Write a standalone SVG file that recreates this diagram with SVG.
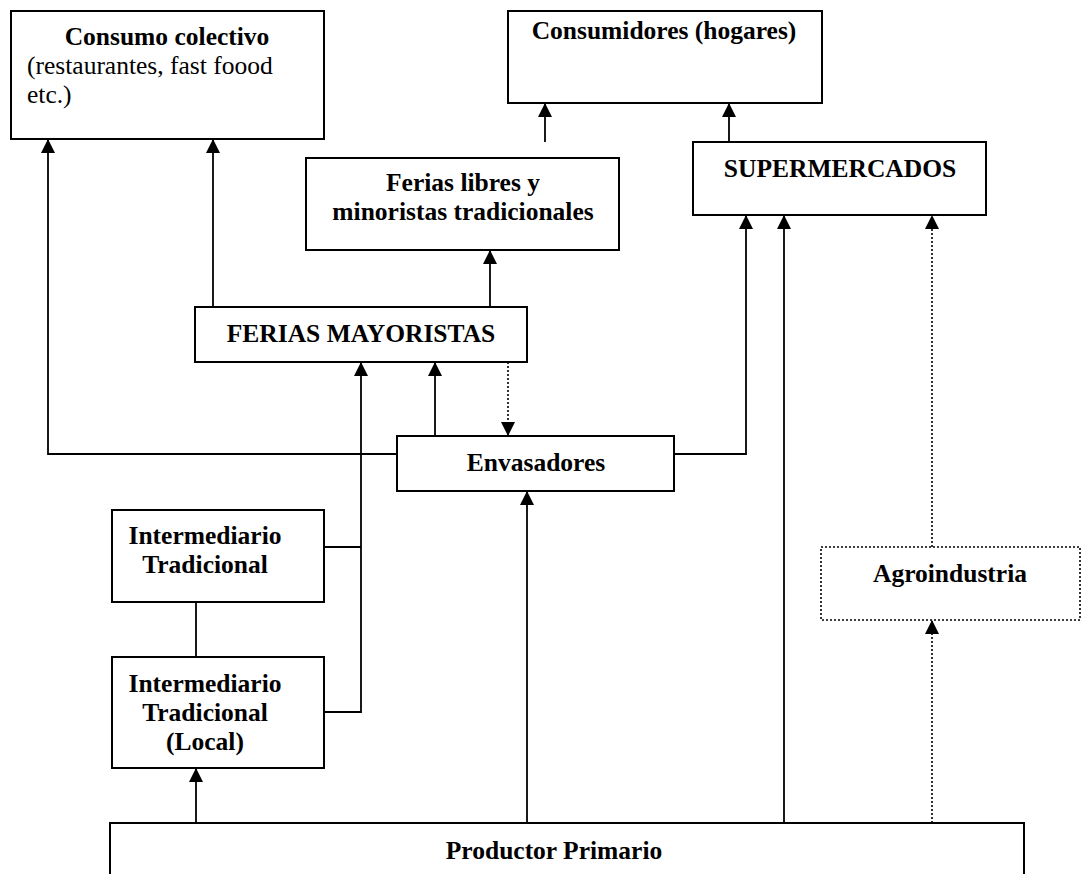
<svg xmlns="http://www.w3.org/2000/svg" width="1084" height="874" viewBox="0 0 1084 874">
  <style>
    .box { fill: #ffffff; stroke: #000000; stroke-width: 2; }
    .dotbox { fill: #ffffff; stroke: #000000; stroke-width: 1.6; stroke-dasharray: 2 2; }
    .link { fill: none; stroke: #000000; stroke-width: 1.8; }
    .dot { fill: none; stroke: #000000; stroke-width: 1.6; stroke-dasharray: 2 2; }
    .t { font-family: "Liberation Serif", "Times New Roman", serif; font-size: 25.5px; fill: #000000; }
    .b { font-weight: bold; text-anchor: middle; }
  </style>
  <defs>
    <marker id="arrow" markerUnits="userSpaceOnUse" markerWidth="14" markerHeight="14" refX="14" refY="7" orient="auto">
      <path d="M0,0 L14,7 L0,14 z" fill="#000000"/>
    </marker>
  </defs>

  <g id="connectors">
    <path class="link" d="M397,454 H48 V139" marker-end="url(#arrow)"/>
    <path class="link" d="M674,454 H746 V215" marker-end="url(#arrow)"/>
    <path class="link" d="M213,307 V139" marker-end="url(#arrow)"/>
    <path class="link" d="M490,307 V250" marker-end="url(#arrow)"/>
    <path class="link" d="M545,142 V103" marker-end="url(#arrow)"/>
    <path class="link" d="M729,142 V103" marker-end="url(#arrow)"/>
    <path class="link" d="M324,712 H361 V362" marker-end="url(#arrow)"/>
    <path class="link" d="M324,547 H361"/>
    <path class="link" d="M435,436 V362" marker-end="url(#arrow)"/>
    <path class="dot" d="M508,362 V436" marker-end="url(#arrow)"/>
    <path class="link" d="M196,602 V657"/>
    <path class="link" d="M196,823 V768" marker-end="url(#arrow)"/>
    <path class="link" d="M527,823 V491" marker-end="url(#arrow)"/>
    <path class="link" d="M784,823 V215" marker-end="url(#arrow)"/>
    <path class="dot" d="M932,823 V620" marker-end="url(#arrow)"/>
    <path class="dot" d="M932,547 V215" marker-end="url(#arrow)"/>
  </g>

  <g id="consumo-colectivo">
    <rect class="box" x="11" y="11" width="313" height="128"/>
    <text class="t b" x="167" y="45">Consumo colectivo</text>
    <text class="t" x="27" y="74">(restaurantes, fast foood</text>
    <text class="t" x="27" y="103">etc.)</text>
  </g>

  <g id="consumidores">
    <rect class="box" x="508" y="11" width="314" height="92"/>
    <text class="t b" x="664" y="39">Consumidores (hogares)</text>
  </g>

  <g id="ferias-libres">
    <rect class="box" x="306" y="158" width="313" height="92"/>
    <text class="t b" x="463" y="191">Ferias libres y</text>
    <text class="t b" x="463" y="220">minoristas tradicionales</text>
  </g>

  <g id="supermercados">
    <rect class="box" x="693" y="142" width="293" height="73"/>
    <text class="t b" x="840" y="177">SUPERMERCADOS</text>
  </g>

  <g id="ferias-mayoristas">
    <rect class="box" x="195" y="307" width="332" height="55"/>
    <text class="t b" x="361" y="342">FERIAS MAYORISTAS</text>
  </g>

  <g id="envasadores">
    <rect class="box" x="397" y="436" width="277" height="55"/>
    <text class="t b" x="536" y="471">Envasadores</text>
  </g>

  <g id="intermediario-tradicional">
    <rect class="box" x="112" y="510" width="212" height="92"/>
    <text class="t b" x="205" y="544">Intermediario</text>
    <text class="t b" x="205" y="573">Tradicional</text>
  </g>

  <g id="intermediario-local">
    <rect class="box" x="112" y="657" width="212" height="111"/>
    <text class="t b" x="205" y="692">Intermediario</text>
    <text class="t b" x="205" y="721">Tradicional</text>
    <text class="t b" x="205" y="750">(Local)</text>
  </g>

  <g id="agroindustria">
    <rect class="dotbox" x="821" y="547" width="259" height="73"/>
    <text class="t b" x="950" y="582">Agroindustria</text>
  </g>

  <g id="productor-primario">
    <rect class="box" x="110" y="823" width="914" height="70"/>
    <text class="t b" x="554" y="859">Productor Primario</text>
  </g>
</svg>
